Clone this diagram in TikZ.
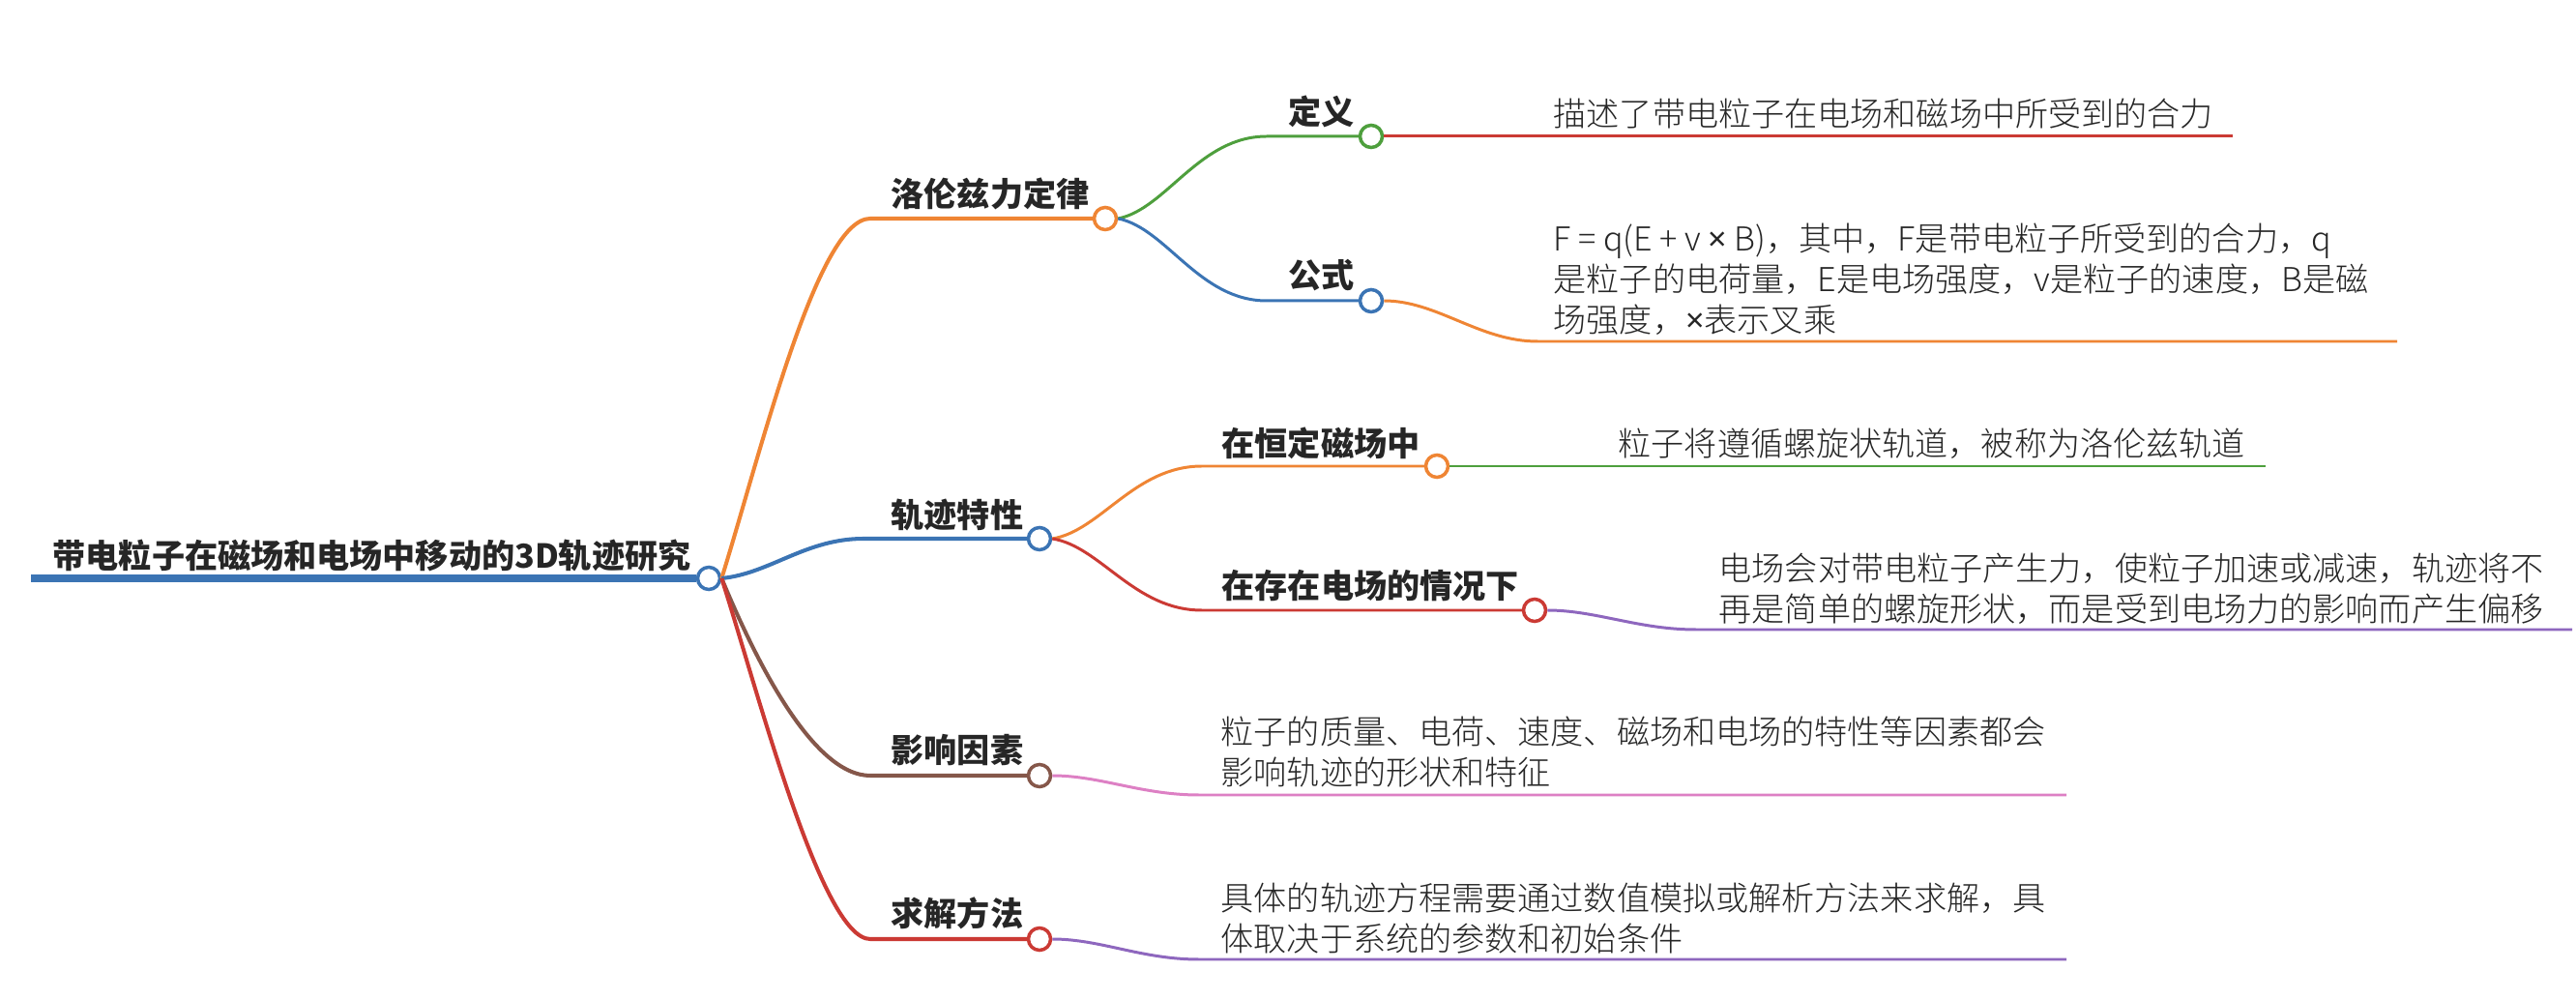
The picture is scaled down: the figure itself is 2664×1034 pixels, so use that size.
\documentclass[tikz,border=0pt]{standalone}
\usepackage{fontspec}
\setmainfont{Noto Sans CJK SC}
\IfFontExistsTF{Noto Sans CJK SC Light}
  {\newfontfamily\thinfont{Noto Sans CJK SC Light}}
  {\newfontfamily\thinfont{Noto Sans CJK SC}}
\newfontfamily\latinfont{Noto Sans}
\definecolor{mapblue}{HTML}{3B74B4}
\definecolor{maporange}{HTML}{EF8534}
\definecolor{mapgreen}{HTML}{4E9F3D}
\definecolor{mapred}{HTML}{CB3A34}
\definecolor{mapbrown}{HTML}{85574A}
\definecolor{mappink}{HTML}{DD80C4}
\definecolor{mappurple}{HTML}{8E67BE}
\definecolor{ink}{HTML}{262626}
\newcommand\topicfont{\bfseries\fontsize{9.7pt}{11.9pt}\selectfont}
\newcommand\leaffont{\thinfont\fontsize{9.7pt}{11.9pt}\selectfont}
\newcommand\crossx{{\latinfont ×}}

\begin{document}
\begin{tikzpicture}[x=0.01cm,y=-0.01cm,
  knot/.style={circle,draw=#1,fill=white,line width=1pt,minimum size=0.23cm,inner sep=0pt},
  limb/.style={draw=#1,line width=1.15pt},
  twig/.style={draw=#1,line width=0.85pt},
  ttl/.style={anchor=south west,inner sep=0pt,font=\topicfont,text=ink},
  leaftext/.style={anchor=south west,inner sep=0pt,align=left,font=\leaffont,text=ink}]
\useasboundingbox (0,0) rectangle (2664,1034);
% central topic
\node[knot=mapblue] (r0) at (733,598) {};
\coordinate (r0s) at (32,598);
\draw[mapblue,line width=2.3pt] (r0s) -- (r0);
\node[ttl] (r0t) at (54,592) {带电粒子在磁场和电场中移动的3D轨迹研究};

% main branches
\node[knot=maporange] (lz) at (1143,226) {};
\node[knot=mapblue] (gj) at (1075,557) {};
\node[knot=mapbrown] (yx) at (1075,802) {};
\node[knot=mapred] (qj) at (1075,971) {};
\coordinate (lz0) at (900,226);
\coordinate (gj0) at (893,557);
\coordinate (yx0) at (900,802);
\coordinate (qj0) at (900,971);
\draw[limb=maporange] (r0.east) .. controls +(40,-128) and +(-55,0) .. (lz0) -- (lz);
\draw[limb=mapblue] (r0.east) .. controls +(50,-5) and +(-60,0) .. (gj0) -- (gj);
\draw[limb=mapbrown] (r0.east) .. controls +(34,82) and +(-60,0) .. (yx0) -- (yx);
\draw[limb=mapred] (r0.east) .. controls +(39,122) and +(-50,0) .. (qj0) -- (qj);
\node[ttl] (lzt) at (921,218) {洛伦兹力定律};
\node[ttl] (gjt) at (921,550) {轨迹特性};
\node[ttl] (yxt) at (921,793) {影响因素};
\node[ttl] (qjt) at (921,962) {求解方法};

% sub topics
\node[knot=mapgreen] (dy) at (1418,141) {};
\node[knot=mapblue] (gs) at (1418,311) {};
\node[knot=maporange] (hd) at (1486,482) {};
\node[knot=mapred] (cz) at (1587,631) {};
\coordinate (dy0) at (1310,141);
\coordinate (gs0) at (1310,311);
\coordinate (hd0) at (1243,482);
\coordinate (cz0) at (1243,631);
\draw[twig=mapgreen] (lz.east) .. controls +(50,-10) and +(-70,0) .. (dy0) -- (dy);
\draw[twig=mapblue] (lz.east) .. controls +(50,10) and +(-70,0) .. (gs0) -- (gs);
\draw[twig=maporange] (gj.east) .. controls +(50,-8) and +(-70,0) .. (hd0) -- (hd);
\draw[twig=mapred] (gj.east) .. controls +(50,8) and +(-70,0) .. (cz0) -- (cz);
\node[ttl] (dyt) at (1332,133) {定义};
\node[ttl] (gst) at (1332,302) {公式};
\node[ttl] (hdt) at (1263,475) {在恒定磁场中};
\node[ttl] (czt) at (1263,623) {在存在电场的情况下};

% details
\coordinate (dy1) at (2309,141);
\coordinate (gs0s) at (1590,353);
\coordinate (gs1) at (2479,353);
\coordinate (hd1) at (2343,482);
\coordinate (cz0s) at (1754,651);
\coordinate (cz1) at (2660,651);
\coordinate (yx0s) at (1240,822);
\coordinate (yx1) at (2137,822);
\coordinate (qj0s) at (1240,992);
\coordinate (qj1) at (2137,992);
\draw[twig=mapred] (dy) -- (dy1);
\draw[twig=maporange] (gs.east) .. controls +(55,0) and +(-60,0) .. (gs0s) -- (gs1);
\draw[twig=mapgreen] (hd) -- (hd1);
\draw[twig=mappurple] (cz.east) .. controls +(50,0) and +(-60,0) .. (cz0s) -- (cz1);
\draw[twig=mappink] (yx.east) .. controls +(50,0) and +(-60,0) .. (yx0s) -- (yx1);
\draw[twig=mappurple] (qj.east) .. controls +(50,0) and +(-60,0) .. (qj0s) -- (qj1);
\node[leaftext] (dyl) at (1606,134) {描述了带电粒子在电场和磁场中所受到的合力};
\node[leaftext] (gsl) at (1606,347) {F = q(E + v \crossx\ B)，其中，F是带电粒子所受到的合力，q\\是粒子的电荷量，E是电场强度，v是粒子的速度，B是磁\\场强度，\crossx 表示叉乘};
\node[leaftext] (hdl) at (1673,475) {粒子将遵循螺旋状轨道，被称为洛伦兹轨道};
\node[leaftext] (czl) at (1777,646) {电场会对带电粒子产生力，使粒子加速或减速，轨迹将不\\再是简单的螺旋形状，而是受到电场力的影响而产生偏移};
\node[leaftext] (yxl) at (1262,815) {粒子的质量、电荷、速度、磁场和电场的特性等因素都会\\影响轨迹的形状和特征};
\node[leaftext] (qjl) at (1262,987) {具体的轨迹方程需要通过数值模拟或解析方法来求解，具\\体取决于系统的参数和初始条件};
\end{tikzpicture}
\end{document}
